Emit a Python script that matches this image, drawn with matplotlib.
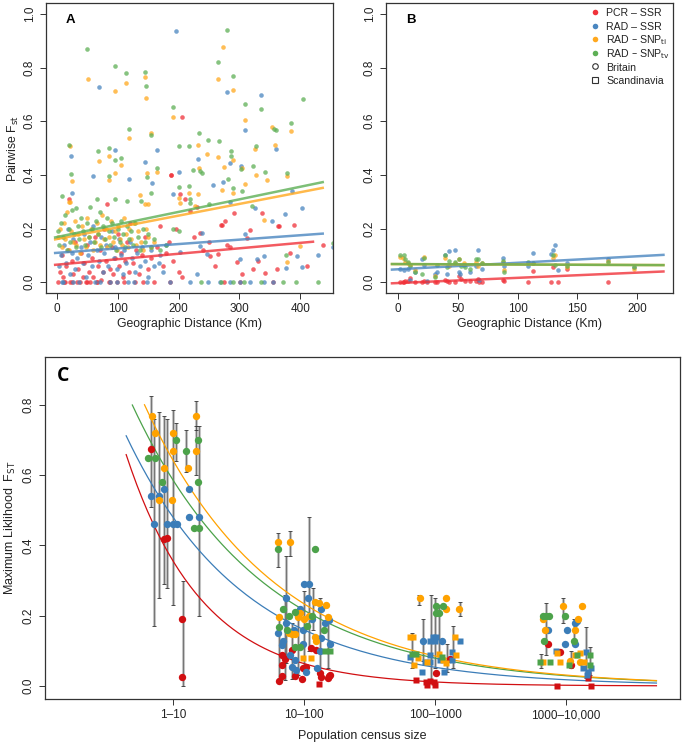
import matplotlib
matplotlib.use("Agg")
import matplotlib.pyplot as plt
import numpy as np

plt.rcParams["font.family"] = ["Liberation Sans", "DejaVu Sans"]

RED = "#F0323A"
BLUE = "#4A86C0"
ORANGE = "#FFA81E"
GREEN = "#5DAF55"

C_RED = "#D10F12"
C_BLUE = "#3B7DB8"
C_ORANGE = "#FFA200"
C_GREEN = "#4CA24A"

# ---------------- Panel A: pairwise Fst vs distance (Britain) ----------------
a_red_x = [2, 5, 8, 10, 12, 15, 18, 20, 22, 25, 27, 30, 33, 35, 38, 40, 42, 45, 48, 50,
           52, 55, 58, 60, 62, 65, 68, 70, 72, 75, 78, 80, 82, 85, 88, 90, 92, 95, 98, 100,
           102, 105, 108, 110, 112, 115, 118, 120, 125, 128, 130, 135, 140, 145, 150, 155,
           160, 165, 170, 175, 180, 185, 190, 195, 200,
           206, 188, 203, 210, 230, 219, 270, 291, 337, 389, 365, 312, 285, 235, 296, 252,
           265, 323, 342, 362, 411, 438, 384, 206, 13, 24, 49, 65, 87, 142, 186, 274, 301, 356,
           187, 271, 277, 318, 364, 250, 240, 225, 260, 280, 305, 330]
a_red_y = [0.0, 0.04, 0.10, 0.02, 0.0, 0.06, 0.12, 0.31, 0.0, 0.08, 0.03, 0.15, 0.0, 0.05, 0.0,
           0.11, 0.02, 0.07, 0.0, 0.14, 0.04, 0.0, 0.09, 0.02, 0.17, 0.0, 0.06, 0.12, 0.01, 0.04,
           0.20, 0.08, 0.29, 0.0, 0.05, 0.13, 0.03, 0.09, 0.0, 0.18, 0.06, 0.11, 0.02, 0.0, 0.08,
           0.15, 0.04, 0.22, 0.07, 0.0, 0.12, 0.03, 0.10, 0.17, 0.05, 0.09, 0.0, 0.13, 0.21, 0.06,
           0.11, 0.15, 0.08, 0.20, 0.04,
           0.616, 0.399, 0.33, 0.311, 0.28, 0.265, 0.212, 0.259, 0.259, 0.214, 0.21, 0.163, 0.13,
           0.185, 0.074, 0.099, 0.105, 0.049, 0.035, 0.049, 0.062, 0.138, 0.109, 0.019, 0.0, 0.0,
           0.0, 0.0, 0.0, 0.0, 0.0, 0.0, 0.0, 0.0,
           0.40, 0.215, 0.227, 0.196, 0.209, 0.15, 0.12, 0.17, 0.06, 0.14, 0.03, 0.08]

a_blue_x = [3, 6, 9, 12, 15, 18, 21, 24, 27, 30, 33, 36, 39, 42, 45, 48, 51, 54, 57, 60, 63,
            66, 69, 72, 75, 78, 81, 84, 87, 90, 93, 96, 99, 102, 105, 108, 111, 114, 117, 120,
            124, 128, 132, 136, 140, 145, 150, 155, 160, 170, 180,
            195, 69, 280, 336, 310, 360, 95, 165, 23, 60, 145, 118, 201, 232, 24, 156, 191,
            273, 257, 285, 303, 285, 326, 387, 375, 403, 353, 310, 238, 203, 247, 301, 329,
            341, 377, 395, 403, 429, 454, 235, 175, 230, 167,
            10, 27, 71, 98, 126, 148, 186, 219, 249, 268, 285, 301, 318, 340, 356]
a_blue_y = [0.06, 0.10, 0.0, 0.14, 0.07, 0.20, 0.03, 0.11, 0.16, 0.05, 0.09, 0.0, 0.13, 0.07,
            0.18, 0.02, 0.10, 0.15, 0.06, 0.21, 0.0, 0.12, 0.08, 0.17, 0.04, 0.11, 0.14, 0.06,
            0.0, 0.19, 0.09, 0.13, 0.05, 0.16, 0.10, 0.03, 0.12, 0.07, 0.0, 0.15, 0.09, 0.04,
            0.11, 0.06, 0.13, 0.08, 0.02, 0.12, 0.06, 0.10, 0.14,
            0.936, 0.728, 0.709, 0.696, 0.568, 0.498, 0.491, 0.491, 0.469, 0.395, 0.448, 0.383,
            0.411, 0.459, 0.333, 0.37, 0.327, 0.372, 0.364, 0.444, 0.432, 0.30, 0.278, 0.341,
            0.256, 0.275, 0.228, 0.179, 0.185, 0.111, 0.107, 0.086, 0.086, 0.099, 0.052, 0.099,
            0.056, 0.101, 0.13, 0.136, 0.037, 0.03, 0.072,
            0.0, 0.0, 0.0, 0.0, 0.0, 0.0, 0.0, 0.0, 0.0, 0.0, 0.0, 0.0, 0.0, 0.0, 0.0]

a_orange_x = [2, 5, 8, 11, 14, 17, 20, 23, 26, 29, 32, 35, 38, 41, 44, 47, 50, 53, 56, 59, 62,
              65, 68, 71, 74, 77, 80, 83, 86, 89, 92, 95, 98, 101, 104, 107, 110, 113, 116,
              119, 122, 126, 130, 134, 138, 142, 146, 150, 155, 160, 20, 145,
              51, 95, 114, 145, 146, 273, 265, 290, 190, 309, 118, 155, 353, 385, 359, 326, 246,
              232, 22, 24, 69, 85, 85, 96, 105, 148, 165, 265, 274, 289, 304, 328, 345, 378,
              200, 217, 232, 234, 272, 289, 309, 22, 136, 150, 227, 340, 400, 378, 202]
a_orange_y = [0.17, 0.20, 0.13, 0.22, 0.16, 0.26, 0.12, 0.19, 0.15, 0.23, 0.14, 0.18, 0.11,
              0.21, 0.16, 0.13, 0.24, 0.17, 0.20, 0.12, 0.15, 0.22, 0.18, 0.14, 0.25, 0.16,
              0.20, 0.13, 0.17, 0.23, 0.15, 0.19, 0.12, 0.21, 0.16, 0.14, 0.24, 0.18, 0.13,
              0.20, 0.16, 0.22, 0.14, 0.19, 0.15, 0.12, 0.20, 0.17, 0.13, 0.15, 0.30, 0.29,
              0.756, 0.711, 0.743, 0.765, 0.686, 0.875, 0.759, 0.716, 0.615, 0.606, 0.537,
              0.556, 0.58, 0.564, 0.512, 0.498, 0.477, 0.51, 0.506, 0.379, 0.452, 0.472, 0.381,
              0.406, 0.435, 0.407, 0.411, 0.467, 0.43, 0.457, 0.426, 0.398, 0.381, 0.395,
              0.315, 0.333, 0.33, 0.426, 0.342, 0.333, 0.367, 0.30, 0.326, 0.291, 0.284,
              0.231, 0.136, 0.074, 0.296]

a_green_x = [1, 4, 7, 10, 13, 16, 19, 22, 25, 28, 31, 34, 37, 40, 43, 46, 49, 52, 55, 58, 61,
             64, 67, 70, 73, 76, 79, 82, 85, 88, 91, 94, 97, 100, 103, 106, 109, 112, 115, 118,
             121, 125, 129, 133, 137, 141, 145, 150, 155, 160, 170, 180, 190, 200,
             50, 95, 113, 145, 147, 190, 118, 155, 233, 248, 280, 265, 290, 309, 336, 385, 404,
             357, 200, 217, 266, 20, 23, 68, 86, 95, 105, 164, 148, 85, 286, 287, 327, 302,
             360, 378, 342, 235, 238, 224, 200, 217, 281, 289, 304, 323, 9, 32, 65, 95, 115,
             138, 154, 219, 218, 250, 321, 376, 454,
             237, 269, 290, 308, 335, 371, 393, 429]
a_green_y = [0.19, 0.14, 0.22, 0.17, 0.25, 0.12, 0.20, 0.15, 0.27, 0.18, 0.13, 0.21, 0.16,
             0.24, 0.19, 0.14, 0.22, 0.17, 0.28, 0.20, 0.15, 0.23, 0.18, 0.26, 0.13, 0.21,
             0.16, 0.24, 0.19, 0.14, 0.22, 0.17, 0.12, 0.20, 0.15, 0.23, 0.18, 0.13, 0.21,
             0.16, 0.19, 0.14, 0.22, 0.17, 0.12, 0.20, 0.15, 0.18, 0.13, 0.16, 0.12, 0.14,
             0.20, 0.19,
             0.868, 0.805, 0.78, 0.784, 0.732, 0.652, 0.572, 0.548, 0.556, 0.531, 0.94, 0.82,
             0.77, 0.664, 0.644, 0.593, 0.683, 0.57, 0.506, 0.506, 0.528, 0.51, 0.402, 0.49,
             0.50, 0.457, 0.463, 0.426, 0.393, 0.395, 0.488, 0.47, 0.506, 0.423, 0.568, 0.407,
             0.412, 0.414, 0.407, 0.417, 0.354, 0.358, 0.383, 0.352, 0.34, 0.432, 0.321,
             0.278, 0.309, 0.312, 0.302, 0.302, 0.332, 0.312, 0.294, 0.291, 0.285, 0.101, 0.148,
             0.0, 0.0, 0.0, 0.0, 0.0, 0.0, 0.0, 0.0]

# fitted lines: intercept, slope, x range
a_fit_int = {"red": 0.0655, "blue": 0.1095, "orange": 0.161, "green": 0.1685}
a_fit_slope = {"red": 0.000203, "blue": 0.000164, "orange": 0.000436, "green": 0.000468}
a_fit_range = {"red": (-3, 421), "blue": (-3, 437), "orange": (-3, 437), "green": (-3, 437)}

# ---------------- Panel B: pairwise Fst vs distance (Scandinavia) ----------------
b_red_x = [2, 4, 5, 6, 8, 10, 14, 20, 22, 24, 31, 33, 39, 41, 43, 48, 51, 53, 56, 60, 65,
           67, 68, 70, 88, 89, 109, 113, 128, 130, 134, 141, 176]
b_red_y = [0.0, 0.002, 0.0, 0.004, 0.003, 0.015, 0.002, 0.0, 0.003, 0.002, 0.0, 0.002, 0.008,
           0.005, 0.001, 0.002, 0.025, 0.012, 0.003, 0.005, 0.004, 0.012, 0.0, 0.002, 0.01,
           0.003, 0.0, 0.043, 0.0, 0.055, 0.0, 0.05, 0.0]

b_blue_x = [2, 5, 8, 10, 14, 20, 22, 24, 31, 33, 39, 41, 43, 48, 51, 52, 55, 60, 65, 67, 68,
            70, 88, 89, 109, 113, 128, 130, 131, 134, 141, 176, 197]
b_blue_y = [0.05, 0.045, 0.05, 0.01, 0.04, 0.085, 0.065, 0.005, 0.03, 0.04, 0.10, 0.03, 0.115,
            0.12, 0.04, 0.03, 0.065, 0.04, 0.06, 0.12, 0.01, 0.05, 0.09, 0.06, 0.06, 0.11,
            0.105, 0.12, 0.14, 0.045, 0.07, 0.085, 0.055]

b_orange_x = [2, 4, 6, 8, 10, 14, 22, 31, 39, 43, 48, 51, 55, 65, 67, 70, 88, 89, 109, 113,
              130, 131, 141, 176, 197]
b_orange_y = [0.095, 0.09, 0.075, 0.07, 0.065, 0.045, 0.095, 0.025, 0.09, 0.06, 0.07, 0.085,
              0.07, 0.075, 0.06, 0.07, 0.075, 0.045, 0.07, 0.07, 0.09, 0.10, 0.055, 0.08, 0.05]

b_green_x = [2, 5, 6, 8, 10, 14, 20, 22, 31, 33, 39, 41, 43, 48, 51, 53, 56, 60, 65, 67, 70,
             88, 89, 109, 113, 130, 131, 141, 176, 197]
b_green_y = [0.10, 0.10, 0.085, 0.075, 0.06, 0.04, 0.03, 0.09, 0.02, 0.065, 0.10, 0.055, 0.08,
             0.075, 0.085, 0.06, 0.055, 0.05, 0.085, 0.085, 0.07, 0.08, 0.04, 0.075, 0.07,
             0.10, 0.065, 0.06, 0.075, 0.055]

b_fit_int = {"red": -0.003, "blue": 0.0483, "orange": 0.0675, "green": 0.0678}
b_fit_slope = {"red": 0.000194, "blue": 0.000242, "orange": -0.000016, "green": -0.000018}
b_fit_range = (-5, 222)

legend_labels = ["PCR \u2013 SSR", "RAD \u2013 SSR", "RAD \u2013 SNP$_{\\mathrm{ti}}$",
                 "RAD \u2013 SNP$_{\\mathrm{tv}}$", "Britain", "Scandinavia"]

# ---------------- Panel C: ML Fst vs census size ----------------
c_ticks = [1, 2, 3, 4]
c_ticklabels = ["1\u201310", "10\u2013100", "100\u20131000", "1000\u201310,000"]

c_red_brit = [(0.83, 0.676), (0.93, 0.417), (0.95, 0.42), (1.07, 0.19), (1.07, 0.026),
              (2.05, 0.107), (1.91, 0.103), (2.09, 0.103), (1.83, 0.088), (1.85, 0.076),
              (1.83, 0.06), (1.99, 0.05), (1.83, 0.029), (1.81, 0.015), (1.93, 0.029),
              (1.98, 0.02), (2.13, 0.025), (2.19, 0.027), (2.2, 0.032), (2.01, 0.055),
              (2.12, 0.038), (2.18, 0.023), (3.11, 0.076), (3.005, 0.038), (3.86, 0.119),
              (3.95, 0.098), (4.04, 0.06)]
c_red_scan = [(2.11, 0.005), (2.85, 0.017), (2.93, 0.012), (2.94, 0.003), (2.99, 0.01),
              (3.0, 0.003), (2.96, 0.015), (4.17, 0.022), (4.17, 0.03), (3.93, 0.001),
              (4.19, 0.0)]
c_blue_brit = [(0.83, 0.54), (0.89, 0.54), (0.85, 0.46), (0.93, 0.56), (0.95, 0.46),
               (1.0, 0.46), (1.03, 0.46), (1.12, 0.56), (1.12, 0.48), (1.20, 0.48),
               (2.0, 0.29), (2.04, 0.29), (1.86, 0.25), (2.03, 0.25), (2.13, 0.219),
               (1.97, 0.219), (1.86, 0.18), (2.19, 0.188), (2.16, 0.179), (1.92, 0.16),
               (1.99, 0.16), (1.80, 0.15), (1.84, 0.129), (1.83, 0.117), (1.99, 0.12),
               (2.13, 0.136), (2.2, 0.12), (2.12, 0.1), (1.89, 0.088), (1.93, 0.074),
               (1.91, 0.053), (1.94, 0.046), (2.01, 0.039), (2.10, 0.05), (2.06, 0.19),
               (1.95, 0.2), (2.91, 0.129), (3.05, 0.129), (4.07, 0.179), (4.08, 0.185),
               (3.86, 0.16), (4.01, 0.16), (3.99, 0.12), (4.07, 0.12)]
c_blue_scan = [(2.96, 0.129), (2.98, 0.139), (3.0, 0.129), (3.01, 0.139), (3.19, 0.129),
               (2.81, 0.083), (2.90, 0.041), (2.92, 0.069), (2.96, 0.088), (2.96, 0.069),
               (3.04, 0.074), (3.13, 0.098), (3.13, 0.074), (3.07, 0.041), (3.92, 0.1),
               (4.15, 0.098), (4.13, 0.05), (4.17, 0.041), (4.19, 0.05), (4.16, 0.03)]
c_orange_brit = [(0.84, 0.77), (0.86, 0.72), (0.89, 0.53), (0.93, 0.62), (0.995, 0.72),
                 (0.995, 0.67), (0.99, 0.53), (1.11, 0.62), (1.17, 0.77), (1.17, 0.67),
                 (1.80, 0.409), (1.89, 0.409), (2.08, 0.24), (2.11, 0.237), (2.17, 0.23),
                 (1.97, 0.207), (1.81, 0.197), (1.95, 0.196), (2.18, 0.196), (1.91, 0.148),
                 (1.93, 0.148), (2.09, 0.129), (2.08, 0.139), (2.04, 0.2), (2.0, 0.19),
                 (1.88, 0.15), (2.885, 0.25), (3.08, 0.25), (3.08, 0.218), (3.18, 0.218),
                 (3.98, 0.229), (4.12, 0.229), (3.82, 0.19), (4.09, 0.19), (3.84, 0.16),
                 (4.07, 0.16), (4.03, 0.072), (4.11, 0.069)]
c_orange_scan = [(1.99, 0.081), (2.05, 0.081), (2.81, 0.139), (2.83, 0.139), (3.15, 0.139),
                 (2.87, 0.081), (2.84, 0.06), (2.94, 0.069), (3.03, 0.091), (3.06, 0.074),
                 (3.16, 0.088), (3.08, 0.065), (3.82, 0.069), (3.95, 0.069), (4.07, 0.088),
                 (4.11, 0.093), (4.14, 0.069), (3.93, 0.095)]
c_green_brit = [(0.81, 0.65), (0.86, 0.65), (0.91, 0.58), (1.02, 0.70), (1.10, 0.67),
                (1.19, 0.70), (1.19, 0.58), (1.16, 0.45), (1.20, 0.45), (1.80, 0.39),
                (2.08, 0.39), (1.93, 0.21), (1.84, 0.219), (1.88, 0.2), (1.81, 0.169),
                (2.15, 0.16), (1.87, 0.16), (1.97, 0.11), (1.93, 0.11), (2.06, 0.2),
                (2.02, 0.17), (3.01, 0.229), (3.06, 0.229), (3.01, 0.209), (3.03, 0.209),
                (3.82, 0.2), (3.85, 0.2), (3.87, 0.2), (3.99, 0.2), (3.83, 0.129), (4.06, 0.129)]
c_green_scan = [(2.16, 0.1), (2.2, 0.1), (2.82, 0.091), (2.85, 0.091), (3.05, 0.083),
                (3.80, 0.069), (3.88, 0.069), (4.02, 0.06), (4.08, 0.088), (4.18, 0.088),
                (4.18, 0.06)]

# confidence intervals: x, lower, upper
c_ci_x = [0.826, 0.851, 0.89, 0.928, 0.949, 0.997, 1.02, 1.074, 1.10, 1.174, 1.174, 1.20,
          1.80, 1.89, 1.85, 2.04, 2.07, 2.0, 1.95, 2.12, 2.18, 1.81, 1.91, 1.86,
          2.88, 2.97, 3.0, 3.03, 2.91, 2.82, 3.14, 3.19, 3.09,
          3.85, 3.98, 4.15, 4.06, 3.81, 4.04, 4.18]
c_ci_lo = [0.51, 0.17, 0.25, 0.29, 0.28, 0.23, 0.64, 0.0, 0.61, 0.73, 0.60, 0.20,
           0.34, 0.37, 0.017, 0.10, 0.16, 0.045, 0.03, 0.03, 0.05, 0.02, 0.02, 0.065,
           0.23, 0.012, 0.05, 0.08, 0.07, 0.05, 0.05, 0.20, 0.04,
           0.088, 0.178, 0.022, 0.12, 0.05, 0.05, 0.03]
c_ci_hi = [0.825, 0.76, 0.78, 0.77, 0.76, 0.785, 0.75, 0.30, 0.73, 0.81, 0.74, 0.74,
           0.435, 0.44, 0.26, 0.48, 0.28, 0.27, 0.22, 0.25, 0.19, 0.20, 0.18, 0.37,
           0.259, 0.259, 0.25, 0.23, 0.19, 0.15, 0.17, 0.24, 0.12,
           0.237, 0.25, 0.169, 0.19, 0.09, 0.10, 0.11]

# fitted decay curves: y = a * exp(-b * x), with x range
c_fit_a = {"red": 1.98, "blue": 1.44, "green": 1.59, "orange": 1.76}
c_fit_b = {"red": 1.72, "blue": 1.10, "green": 1.0, "orange": 1.01}
c_fit_start = {"red": 0.64, "blue": 0.64, "green": 0.687, "orange": 0.78}
c_fit_end = 4.69


def style_axes(ax, tick_size=8.5):
    for side in ["top", "right", "left", "bottom"]:
        ax.spines[side].set_color("#333333")
        ax.spines[side].set_linewidth(0.9)
    ax.tick_params(axis="both", direction="out", length=4, width=0.7, colors="#333333",
                   labelsize=tick_size, labelcolor="#222222")
    ax.tick_params(axis="y", labelrotation=90)
    for lab in ax.get_yticklabels():
        lab.set_va("center")


def draw_fst_panel(ax, series, fits, fit_range, xlim, xticks, label):
    for xs, ys, col in series:
        ax.plot(xs, ys, "o", color=col, ms=3.3, alpha=0.75, mec="none", zorder=2)
    for key, col in [("red", RED), ("blue", BLUE), ("orange", ORANGE), ("green", GREEN)]:
        lo, hi = fit_range[key] if isinstance(fit_range, dict) else fit_range
        xx = np.array([lo, hi])
        ax.plot(xx, fits[0][key] + fits[1][key] * xx, color=col, lw=1.8, alpha=0.8, zorder=3)
    ax.set_xlim(*xlim)
    ax.set_ylim(-0.04, 1.04)
    ax.set_xticks(xticks)
    ax.set_yticks([0.0, 0.2, 0.4, 0.6, 0.8, 1.0])
    ax.set_yticklabels(["0.0", "0.2", "0.4", "0.6", "0.8", "1.0"])
    ax.set_xlabel("Geographic Distance (Km)", fontsize=8.8, color="#222222", labelpad=2)
    ax.text(0.07, 0.93, label, transform=ax.transAxes, fontsize=9.5, fontweight="bold")
    style_axes(ax)


fig = plt.figure(figsize=(6.85, 7.47), dpi=100)

ax_a = fig.add_axes([0.0672, 0.6078, 0.419, 0.388])
draw_fst_panel(
    ax_a,
    [(a_red_x, a_red_y, RED), (a_blue_x, a_blue_y, BLUE),
     (a_orange_x, a_orange_y, ORANGE), (a_green_x, a_green_y, GREEN)],
    (a_fit_int, a_fit_slope), a_fit_range, (-18, 454), [0, 100, 200, 300, 400], "A",
)
ax_a.set_ylabel("Pairwise F$_{\\mathrm{st}}$", fontsize=8.8, color="#222222", labelpad=2)

ax_b = fig.add_axes([0.5635, 0.6078, 0.419, 0.388])
draw_fst_panel(
    ax_b,
    [(b_red_x, b_red_y, RED), (b_blue_x, b_blue_y, BLUE),
     (b_orange_x, b_orange_y, ORANGE), (b_green_x, b_green_y, GREEN)],
    (b_fit_int, b_fit_slope), b_fit_range, (-10, 230), [0, 50, 100, 150, 200], "B",
)

# legend drawn row by row so every row has the same spacing (like R's legend())
legend_styles = [
    dict(marker="o", color=RED, mec="none"),
    dict(marker="o", color=BLUE, mec="none"),
    dict(marker="o", color=ORANGE, mec="none"),
    dict(marker="o", color=GREEN, mec="none"),
    dict(marker="o", mfc="none", mec="#333333", mew=0.8),
    dict(marker="s", mfc="none", mec="#333333", mew=0.8),
]
row_top, row_step = 0.969, 0.0469
for i, (lab, sty) in enumerate(zip(legend_labels, legend_styles)):
    yy = row_top - i * row_step
    ax_b.plot([0.727], [yy], ls="", ms=4.0, transform=ax_b.transAxes, clip_on=False, **sty)
    ax_b.text(0.767, yy - 0.014, lab, transform=ax_b.transAxes, fontsize=7.6,
              va="baseline", ha="left", color="#222222")

# ---------------- Panel C ----------------
ax_c = fig.add_axes([0.0657, 0.0643, 0.927, 0.458])
ax_c.vlines(c_ci_x, c_ci_lo, c_ci_hi, color="#C4C4C4", lw=2.2, zorder=1)
ax_c.vlines(c_ci_x, c_ci_lo, c_ci_hi, color="#555555", lw=0.5, zorder=1)
ax_c.plot(c_ci_x, c_ci_lo, "_", color="#333333", ms=2.5, mew=0.6, zorder=1)
ax_c.plot(c_ci_x, c_ci_hi, "_", color="#333333", ms=2.5, mew=0.6, zorder=1)

for key, col in [("red", C_RED), ("blue", C_BLUE), ("green", C_GREEN), ("orange", C_ORANGE)]:
    xx = np.linspace(c_fit_start[key], c_fit_end, 200)
    ax_c.plot(xx, c_fit_a[key] * np.exp(-c_fit_b[key] * xx), color=col, lw=0.9, zorder=2)

for pts, col in [(c_red_brit, C_RED), (c_blue_brit, C_BLUE),
                 (c_orange_brit, C_ORANGE), (c_green_brit, C_GREEN)]:
    xs, ys = zip(*pts)
    ax_c.plot(xs, ys, "o", color=col, ms=5.3, mec="none", zorder=3)
for pts, col in [(c_red_scan, C_RED), (c_blue_scan, C_BLUE),
                 (c_orange_scan, C_ORANGE), (c_green_scan, C_GREEN)]:
    xs, ys = zip(*pts)
    ax_c.plot(xs, ys, "s", color=col, ms=5.0, mec="none", zorder=3)

ax_c.set_xlim(0.02, 4.87)
ax_c.set_ylim(-0.037, 0.937)
ax_c.set_xticks(c_ticks)
ax_c.set_xticklabels(c_ticklabels)
ax_c.set_yticks([0.0, 0.2, 0.4, 0.6, 0.8])
ax_c.set_yticklabels(["0.0", "0.2", "0.4", "0.6", "0.8"])
ax_c.set_xlabel("Population census size", fontsize=9, color="#222222", labelpad=6)
ax_c.set_ylabel("Maximum Liklihood  F$_{\\mathrm{ST}}$", fontsize=9, color="#222222",
                labelpad=3)
ax_c.text(0.018, 0.93, "C", transform=ax_c.transAxes, fontsize=14, fontweight="bold",
          family=["Open Sans", "DejaVu Sans"])
style_axes(ax_c, tick_size=8.5)

fig.savefig("out.png", dpi=100)
